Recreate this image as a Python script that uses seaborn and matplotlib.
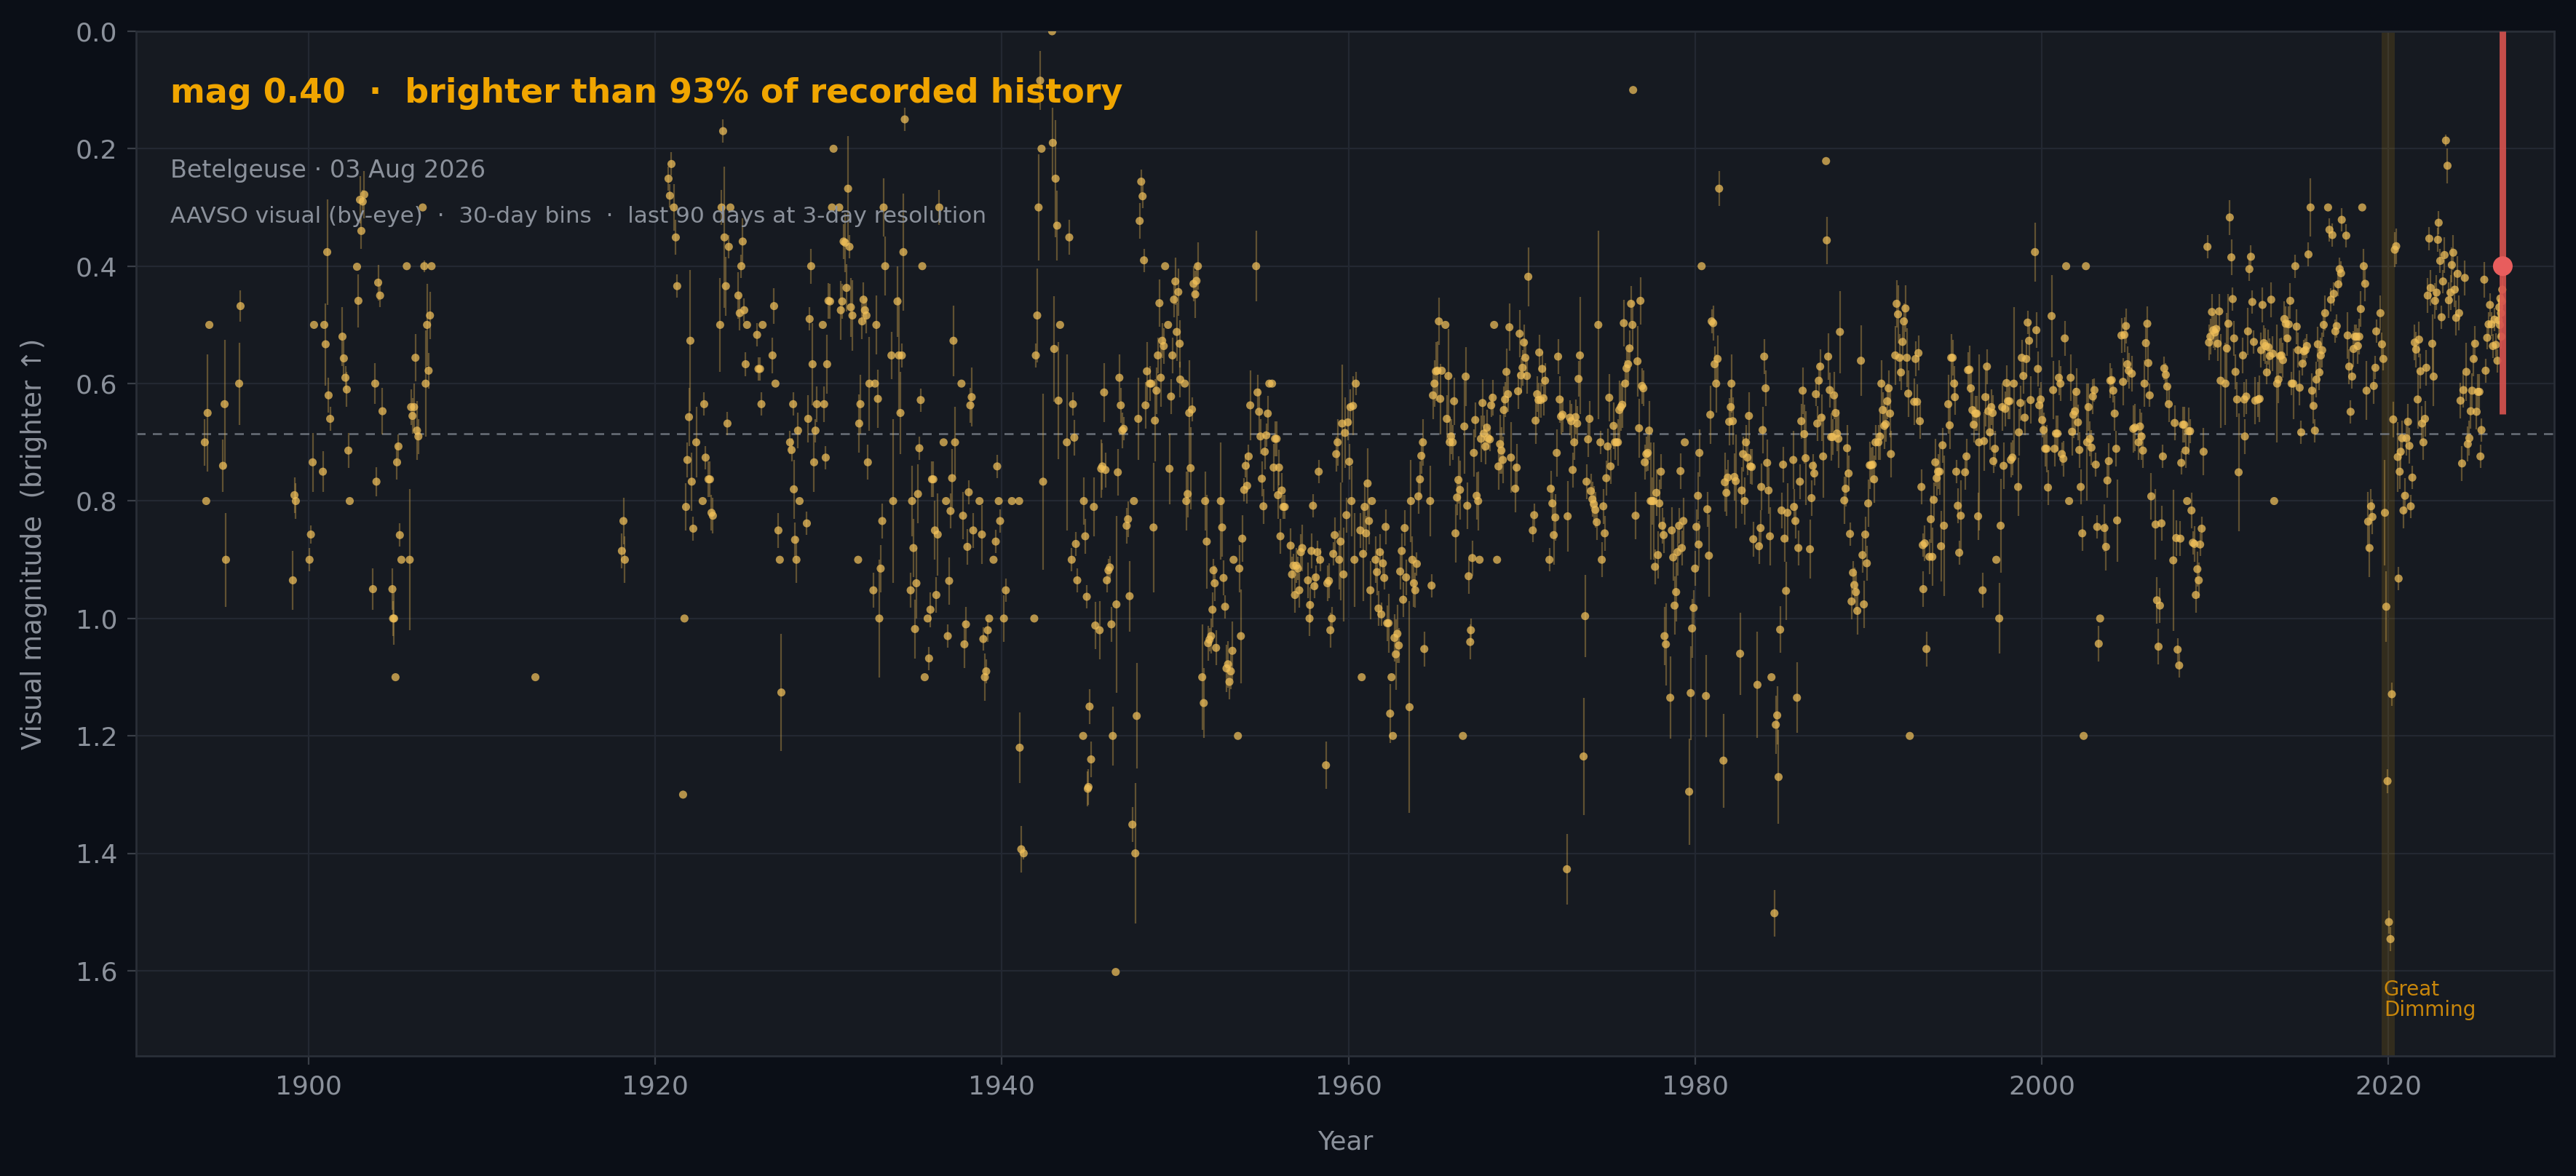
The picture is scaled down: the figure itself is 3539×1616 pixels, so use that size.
import numpy as np
import pandas as pd
import matplotlib
matplotlib.use("Agg")
import matplotlib.pyplot as plt
import seaborn as sns

# ---- 30-day binned visual magnitudes (year, mag, spread) ----
years_a = [1894.02, 1894.10, 1894.18, 1894.28, 1895.07, 1895.16, 1895.24, 1896.00, 1896.08,
           1899.10, 1899.19, 1899.27, 1900.06, 1900.14, 1900.24, 1900.32, 1900.83, 1900.91, 1900.99, 1901.08, 1901.16, 1901.25,
           1901.96, 1902.04, 1902.13, 1902.21, 1902.30, 1902.38, 1902.80, 1902.88, 1902.97, 1903.05, 1903.13, 1903.22,
           1903.72, 1903.85, 1903.92, 1904.02, 1904.13, 1904.27, 1904.84, 1904.88, 1904.94, 1905.02, 1905.11, 1905.19, 1905.27, 1905.36,
           1905.67, 1905.84, 1905.92, 1906.00, 1906.09, 1906.17, 1906.26, 1906.34, 1906.59, 1906.68, 1906.76, 1906.84, 1906.93, 1907.01, 1907.10]
mags_a = [0.700, 0.800, 0.650, 0.500, 0.740, 0.635, 0.900, 0.600, 0.468,
          0.935, 0.790, 0.800, 0.900, 0.857, 0.734, 0.500, 0.750, 0.500, 0.533, 0.376, 0.620, 0.660,
          0.520, 0.557, 0.590, 0.610, 0.714, 0.800, 0.401, 0.459, 0.287, 0.340, 0.290, 0.278,
          0.950, 0.600, 0.767, 0.428, 0.450, 0.647, 0.950, 1.000, 1.000, 1.100, 0.734, 0.707, 0.858, 0.900,
          0.400, 0.900, 0.640, 0.655, 0.640, 0.556, 0.680, 0.690, 0.300, 0.400, 0.600, 0.500, 0.578, 0.484, 0.400]
errs_a = [0.04, 0, 0.10, 0, 0.045, 0.11, 0.08, 0.07, 0.027,
          0.05, 0.03, 0.03, 0.02, 0.015, 0.05, 0, 0.035, 0, 0.07, 0.09, 0.03, 0.02,
          0.05, 0.03, 0.02, 0.03, 0.03, 0, 0, 0.045, 0.04, 0.03, 0.02, 0.04,
          0.035, 0.035, 0.025, 0.03, 0.02, 0.04, 0.035, 0.03, 0.045, 0, 0.03, 0.02, 0.02, 0,
          0, 0.12, 0.03, 0.03, 0.04, 0.04, 0.05, 0.03, 0, 0.01, 0.09, 0.07, 0.03, 0.04, 0]

years_b = [1913.09, 1918.08, 1918.17, 1918.25,
           1920.77, 1920.85, 1920.94, 1921.08, 1921.19, 1921.27, 1921.61, 1921.69, 1921.78, 1921.86, 1921.95, 1922.03, 1922.11, 1922.20, 1922.37,
           1922.74, 1922.83, 1922.91, 1923.08, 1923.16, 1923.25, 1923.33, 1923.75, 1923.83, 1923.92, 1924.00, 1924.08, 1924.17, 1924.25, 1924.34,
           1924.80, 1924.88, 1924.97, 1925.05, 1925.14, 1925.22, 1925.30, 1925.88, 1925.96, 1926.05, 1926.13, 1926.20,
           1926.77, 1926.86, 1926.94, 1927.11, 1927.19, 1927.28, 1927.78, 1927.87, 1927.96, 1928.00, 1928.07, 1928.15, 1928.24, 1928.33,
           1928.75, 1928.83, 1928.91, 1929.00, 1929.08, 1929.17, 1929.25, 1929.33, 1929.67, 1929.75, 1929.84, 1929.92, 1930.00]
mags_b = [1.100, 0.885, 0.834, 0.900,
          0.251, 0.280, 0.226, 0.300, 0.351, 0.434, 1.300, 1.000, 0.810, 0.730, 0.657, 0.527, 0.767, 0.847, 0.700,
          0.800, 0.635, 0.726, 0.763, 0.763, 0.820, 0.825, 0.500, 0.300, 0.170, 0.351, 0.434, 0.668, 0.367, 0.300,
          0.450, 0.480, 0.400, 0.358, 0.475, 0.567, 0.500, 0.517, 0.575, 0.575, 0.635, 0.500,
          0.552, 0.468, 0.600, 0.850, 0.900, 1.126, 0.700, 0.713, 0.635, 0.780, 0.866, 0.900, 0.680, 0.800,
          0.838, 0.660, 0.490, 0.400, 0.567, 0.734, 0.680, 0.635, 0.500, 0.635, 0.726, 0.567, 0.459]
errs_b = [0, 0.03, 0.04, 0.04,
          0.02, 0.02, 0.02, 0.04, 0.03, 0.02, 0, 0, 0.04, 0.03, 0.05, 0.12, 0.05, 0.02, 0.06,
          0, 0.02, 0.02, 0.03, 0.03, 0.03, 0.03, 0.08, 0.03, 0.02, 0.12, 0.05, 0.02, 0.02, 0,
          0.04, 0.03, 0.02, 0.04, 0.02, 0.02, 0, 0.02, 0.02, 0.02, 0.02, 0,
          0.03, 0.03, 0, 0.03, 0, 0.10, 0.02, 0.02, 0.02, 0.05, 0.03, 0.04, 0.03, 0,
          0.02, 0.04, 0.02, 0.03, 0.07, 0.05, 0.02, 0.03, 0, 0.03, 0.02, 0.05, 0.03]

years_c = [1930.09, 1930.20, 1930.29, 1930.62, 1930.71, 1930.79, 1930.87, 1930.96, 1931.04, 1931.13, 1931.21, 1931.29, 1931.38,
           1931.71, 1931.77, 1931.84, 1931.94, 1932.02, 1932.10, 1932.19, 1932.27, 1932.36,
           1932.59, 1932.68, 1932.76, 1932.85, 1932.93, 1933.01, 1933.10, 1933.18, 1933.27,
           1933.63, 1933.73, 1933.98, 1934.06, 1934.15, 1934.23, 1934.32, 1934.40,
           1934.74, 1934.82, 1934.90, 1934.99, 1935.07, 1935.16, 1935.24, 1935.32, 1935.41,
           1935.55, 1935.72, 1935.80, 1935.88, 1935.97, 1936.05, 1936.14, 1936.22, 1936.30, 1936.39,
           1936.64, 1936.78, 1936.88, 1936.96, 1937.04, 1937.13, 1937.21, 1937.30,
           1937.67, 1937.76, 1937.84, 1937.93, 1938.01, 1938.09, 1938.18, 1938.26, 1938.35,
           1938.71, 1938.85, 1938.93, 1939.02, 1939.10, 1939.19, 1939.27,
           1939.52, 1939.65, 1939.73, 1939.82, 1939.90, 1940.12, 1940.23, 1940.58, 1941.00, 1941.03, 1941.12, 1941.26,
           1941.87, 1941.96, 1942.04, 1942.12, 1942.21, 1942.29, 1942.38,
           1942.90, 1942.94, 1943.02, 1943.10, 1943.19, 1943.27, 1943.36,
           1943.75, 1943.89, 1944.03, 1944.10, 1944.18, 1944.27, 1944.35,
           1944.69, 1944.73, 1944.81, 1944.90, 1944.96, 1945.00, 1945.06, 1945.15]
mags_c = [0.460, 0.300, 0.200, 0.300, 0.475, 0.460, 0.358, 0.360, 0.437, 0.268, 0.367, 0.470, 0.484,
          0.900, 0.668, 0.635, 0.494, 0.457, 0.475, 0.484, 0.734, 0.600,
          0.952, 0.600, 0.500, 0.626, 1.000, 0.915, 0.834, 0.300, 0.400,
          0.552, 0.800, 0.460, 0.552, 0.650, 0.552, 0.376, 0.150,
          0.952, 0.800, 0.880, 1.018, 0.940, 0.788, 0.710, 0.628, 0.400,
          1.100, 1.000, 1.068, 0.985, 0.763, 0.763, 0.850, 0.960, 0.857, 0.300,
          0.700, 0.800, 1.030, 0.936, 0.817, 0.761, 0.527, 0.700,
          0.600, 0.825, 1.044, 1.010, 0.878, 0.785, 0.637, 0.623, 0.850,
          0.800, 0.857, 1.035, 1.100, 1.090, 1.020, 1.000,
          0.900, 0.869, 0.741, 0.800, 0.834, 1.000, 0.952, 0.800, 0.800, 1.220, 1.393, 1.400,
          1.000, 0.552, 0.484, 0.300, 0.084, 0.200, 0.767,
          0.000, 0.190, 0.541, 0.251, 0.331, 0.629, 0.500,
          0.700, 0.351, 0.900, 0.635, 0.692, 0.873, 0.935,
          1.200, 0.800, 0.860, 0.963, 1.290, 1.287, 1.150, 1.240]
errs_c = [0.03, 0, 0, 0, 0.05, 0.03, 0.03, 0.05, 0.04, 0.09, 0.02, 0.05, 0.06,
          0, 0.05, 0.05, 0.03, 0.03, 0.02, 0.03, 0.03, 0.08,
          0.03, 0, 0.05, 0.05, 0.10, 0.04, 0.03, 0.05, 0.05,
          0.04, 0.14, 0.06, 0.10, 0.07, 0.02, 0.10, 0.02,
          0.03, 0.06, 0.05, 0.05, 0.06, 0.05, 0.02, 0.02, 0,
          0, 0, 0.02, 0.03, 0.03, 0.03, 0.05, 0.03, 0.07, 0.03,
          0, 0, 0.02, 0.04, 0.03, 0.05, 0.06, 0.06,
          0, 0.04, 0.04, 0.03, 0.03, 0.02, 0.03, 0.05, 0.03,
          0, 0.05, 0.02, 0.04, 0.02, 0.02, 0,
          0, 0.02, 0.02, 0, 0.02, 0.04, 0.02, 0, 0, 0.06, 0.04, 0.01,
          0, 0.02, 0.08, 0.09, 0.05, 0, 0.15,
          0, 0.06, 0.09, 0.10, 0.06, 0.10, 0,
          0.15, 0.03, 0.02, 0.02, 0.03, 0.02, 0.02,
          0, 0.04, 0.03, 0.02, 0.03, 0.03, 0.03, 0.03]

years_d = [1945.31, 1945.39, 1945.64, 1945.73, 1945.80, 1945.90, 1945.98, 1946.06, 1946.15, 1946.23, 1946.32, 1946.40, 1946.57, 1946.61,
           1946.69, 1946.78, 1946.86, 1946.95, 1947.03, 1947.20, 1947.28, 1947.37, 1947.53, 1947.62, 1947.70, 1947.78, 1947.87, 1947.95, 1948.04, 1948.12, 1948.20, 1948.29, 1948.37,
           1948.54, 1948.62, 1948.75, 1948.83, 1948.92, 1949.00, 1949.09, 1949.17, 1949.25, 1949.34, 1949.42, 1949.59, 1949.67, 1949.76, 1949.84, 1949.93, 1950.01, 1950.09, 1950.18, 1950.26, 1950.29,
           1950.55, 1950.64, 1950.72, 1950.81, 1950.89, 1950.97, 1951.06, 1951.16, 1951.23, 1951.31, 1951.56, 1951.65, 1951.73, 1951.82, 1951.90, 1951.98, 1952.07, 1952.15, 1952.21, 1952.28, 1952.36,
           1952.63, 1952.71, 1952.79, 1952.88, 1952.96, 1953.05, 1953.13, 1953.21, 1953.30, 1953.37, 1953.62, 1953.70, 1953.79, 1953.87, 1953.98, 1954.07, 1954.15, 1954.24, 1954.33,
           1954.67, 1954.75, 1954.84, 1954.92, 1955.00, 1955.09, 1955.17, 1955.26, 1955.34, 1955.43, 1955.59, 1955.68, 1955.76, 1955.85, 1955.93, 1955.99, 1956.07, 1956.15, 1956.24, 1956.32,
           1956.66, 1956.74, 1956.82, 1956.91, 1956.99, 1957.08, 1957.16, 1957.25, 1957.33, 1957.66, 1957.75, 1957.78, 1957.86, 1957.95, 1958.03, 1958.11, 1958.20, 1958.28, 1958.36,
           1958.70, 1958.78, 1958.87, 1958.95, 1959.04, 1959.12, 1959.20, 1959.29, 1959.37, 1959.46, 1959.54, 1959.63, 1959.71, 1959.79, 1959.88, 1959.96, 1960.04, 1960.11]
mags_d = [0.810, 1.012, 1.020, 0.745, 0.741, 0.615, 0.747, 0.935, 0.918, 0.913, 1.010, 1.200, 1.602, 0.976,
          0.751, 0.590, 0.637, 0.680, 0.677, 0.842, 0.831, 0.962, 1.351, 0.800, 1.400, 1.166, 0.660, 0.323, 0.256, 0.281, 0.390, 0.637, 0.579,
          0.600, 0.600, 0.845, 0.663, 0.612, 0.552, 0.463, 0.590, 0.527, 0.536, 0.400, 0.500, 0.745, 0.622, 0.552, 0.457, 0.426, 0.512, 0.444, 0.532, 0.593,
          0.600, 0.800, 0.788, 0.650, 0.744, 0.644, 0.430, 0.448, 0.425, 0.400, 1.100, 1.144, 0.800, 0.869, 1.042, 1.036, 1.030, 0.985, 0.918, 0.940, 1.050,
          0.800, 0.845, 0.931, 0.980, 1.085, 1.078, 1.108, 1.090, 1.055, 0.900, 1.200, 0.915, 1.030, 0.864, 0.781, 0.740, 0.774, 0.724, 0.637,
          0.400, 0.615, 0.648, 0.690, 0.762, 0.809, 0.716, 0.688, 0.651, 0.600, 0.600, 0.743, 0.694, 0.694, 0.790, 0.743, 0.860, 0.782, 0.810, 0.810,
          0.876, 0.925, 0.910, 0.960, 0.910, 0.915, 0.952, 0.887, 0.880, 0.935, 1.000, 0.977, 0.885, 0.808, 0.945, 0.930, 0.887, 0.750, 0.900,
          1.250, 0.940, 0.936, 1.020, 1.000, 0.890, 0.858, 0.720, 0.700, 0.900, 0.869, 0.668, 0.925, 0.684, 0.824, 0.666, 0.733, 0.640]
errs_d = [0.05, 0.04, 0.05, 0.05, 0.04, 0.05, 0.03, 0.02, 0.02, 0.02, 0.03, 0.05, 0, 0.15,
          0.04, 0.04, 0.03, 0.03, 0.02, 0.03, 0.03, 0.06, 0.03, 0, 0.12, 0.09, 0.07, 0.03, 0.02, 0.02, 0.02, 0.04, 0.05,
          0.03, 0, 0.11, 0.07, 0.04, 0.03, 0.04, 0.05, 0.03, 0.03, 0, 0, 0.06, 0.03, 0.03, 0.03, 0.04, 0.05, 0.04, 0.04, 0.03,
          0, 0.05, 0.04, 0.09, 0.07, 0.02, 0.03, 0.04, 0.03, 0.04, 0.09, 0.06, 0.05, 0.08, 0.03, 0.02, 0.03, 0.03, 0.02, 0.03, 0.03,
          0.10, 0.05, 0.03, 0.02, 0.04, 0.04, 0.03, 0.03, 0.05, 0, 0, 0.04, 0.08, 0.04, 0.02, 0.02, 0.03, 0.02, 0.06,
          0.06, 0.03, 0.04, 0.03, 0.03, 0.03, 0.03, 0.02, 0.03, 0, 0, 0.04, 0.03, 0.03, 0.04, 0.03, 0.03, 0.03, 0.02, 0.02,
          0.03, 0.03, 0.02, 0.03, 0.03, 0.02, 0.03, 0.03, 0.04, 0.03, 0.03, 0.03, 0.03, 0.02, 0.02, 0.02, 0.02, 0.02, 0.02,
          0.04, 0.03, 0.03, 0.03, 0.02, 0.02, 0.03, 0.03, 0.04, 0.05, 0.10, 0.10, 0.08, 0.06, 0.03, 0.03, 0.03, 0.03]

years_e = [1960.17, 1960.26, 1960.34, 1960.42, 1960.68, 1960.76, 1960.84, 1960.93, 1961.01, 1961.10, 1961.18, 1961.26, 1961.35,
           1961.56, 1961.64, 1961.73, 1961.81, 1961.89, 1961.98, 1962.06, 1962.14, 1962.23, 1962.31, 1962.40, 1962.48, 1962.56, 1962.65, 1962.73, 1962.82, 1962.90, 1962.98, 1963.07, 1963.15, 1963.24, 1963.32,
           1963.52, 1963.60, 1963.68, 1963.77, 1963.85, 1963.94, 1964.03, 1964.12, 1964.20, 1964.29, 1964.37, 1964.71, 1964.79, 1964.87, 1964.96, 1965.04, 1965.13, 1965.21, 1965.29, 1965.38,
           1965.59, 1965.67, 1965.76, 1965.84, 1965.92, 1966.01, 1966.09, 1966.17, 1966.26, 1966.34, 1966.43, 1966.60, 1966.68, 1966.76, 1966.85, 1966.93, 1967.02, 1967.06, 1967.14, 1967.23, 1967.31, 1967.39, 1967.48,
           1967.56, 1967.64, 1967.73, 1967.81, 1967.90, 1967.98, 1968.06, 1968.15, 1968.23, 1968.32, 1968.40, 1968.57, 1968.65, 1968.74, 1968.82, 1968.90, 1968.96, 1969.03, 1969.11, 1969.20, 1969.28, 1969.37,
           1969.62, 1969.70, 1969.78, 1969.87, 1969.95, 1970.04, 1970.12, 1970.20, 1970.29, 1970.37, 1970.63, 1970.71, 1970.79, 1970.88, 1970.96, 1971.00, 1971.09, 1971.17, 1971.25, 1971.34,
           1971.59, 1971.67, 1971.76, 1971.84, 1971.93, 1972.01, 1972.09, 1972.18, 1972.26, 1972.35, 1972.60, 1972.64, 1972.77, 1972.85, 1972.93, 1973.02, 1973.10, 1973.19, 1973.27, 1973.35,
           1973.56, 1973.65, 1973.73, 1973.82, 1973.90, 1973.98, 1974.07, 1974.15, 1974.24, 1974.32, 1974.41, 1974.53, 1974.61, 1974.70, 1974.78, 1974.87, 1974.95, 1975.04, 1975.12]
mags_e = [0.800, 0.638, 0.900, 0.600, 0.850, 1.100, 0.890, 0.810, 0.855, 0.770, 0.834, 0.952, 0.800,
          0.900, 0.921, 0.983, 0.887, 0.993, 0.906, 0.931, 0.844, 1.008, 1.008, 1.162, 1.100, 1.200, 1.033, 1.061, 1.026, 1.046, 0.920, 0.885, 0.968, 0.846, 0.930,
          1.151, 0.800, 0.900, 0.940, 0.952, 0.907, 0.792, 0.763, 0.723, 0.700, 1.052, 0.800, 0.944, 0.620, 0.600, 0.579, 0.578, 0.494, 0.626, 0.578,
          0.500, 0.660, 0.587, 0.700, 0.690, 0.700, 0.630, 0.855, 0.794, 0.764, 0.781, 1.200, 0.673, 0.588, 0.808, 0.928, 1.040, 1.020, 0.897, 0.718, 0.662, 0.791, 0.800,
          0.900, 0.694, 0.633, 0.685, 0.707, 0.675, 0.693, 0.695, 0.637, 0.624, 0.500, 0.900, 0.741, 0.703, 0.714, 0.730, 0.645, 0.627, 0.580, 0.618, 0.504, 0.726,
          0.779, 0.743, 0.613, 0.515, 0.586, 0.573, 0.530, 0.556, 0.587, 0.418, 0.850, 0.824, 0.663, 0.618, 0.628, 0.547, 0.628, 0.575, 0.625, 0.595,
          0.900, 0.779, 0.804, 0.858, 0.828, 0.718, 0.554, 0.627, 0.656, 0.653, 1.427, 0.826, 0.658, 0.664, 0.747, 0.700, 0.657, 0.668, 0.592, 0.552,
          1.235, 0.996, 0.767, 0.695, 0.660, 0.783, 0.797, 0.805, 0.815, 0.836, 0.500, 0.700, 0.900, 0.809, 0.855, 0.761, 0.707, 0.624, 0.741]
errs_e = [0.06, 0.05, 0.08, 0.02, 0.03, 0, 0.08, 0.04, 0.03, 0.06, 0.04, 0.05, 0,
          0.04, 0.04, 0.03, 0.03, 0.02, 0.02, 0.02, 0.03, 0.03, 0.05, 0.05, 0, 0, 0.04, 0.06, 0.05, 0.03, 0.03, 0.03, 0.03, 0.03, 0.03,
          0.18, 0.07, 0.04, 0.04, 0.03, 0.02, 0.03, 0.03, 0.03, 0.04, 0.03, 0.06, 0.02, 0.04, 0.04, 0.05, 0.05, 0.04, 0.06, 0,
          0, 0.04, 0.08, 0.04, 0.03, 0.03, 0.04, 0.05, 0.03, 0.04, 0.05, 0, 0.08, 0.05, 0.04, 0.03, 0.03, 0.02, 0.03, 0.04, 0.03, 0.04, 0.05,
          0, 0.04, 0.04, 0.03, 0.03, 0.03, 0.02, 0.02, 0.02, 0.03, 0, 0, 0.04, 0.05, 0.04, 0.04, 0.04, 0.03, 0.04, 0.03, 0.04, 0.06,
          0.04, 0.04, 0.03, 0.04, 0.03, 0.03, 0.03, 0.03, 0.03, 0.05, 0.02, 0.02, 0.04, 0.03, 0.03, 0.03, 0.03, 0.03, 0.03, 0.03,
          0.02, 0.03, 0.03, 0.05, 0.04, 0.04, 0.03, 0.04, 0.03, 0.03, 0.06, 0.06, 0.03, 0.03, 0.03, 0.03, 0.03, 0.03, 0.03, 0.10,
          0.10, 0.07, 0.03, 0.03, 0.03, 0.03, 0.03, 0.03, 0.03, 0.03, 0.16, 0.02, 0.03, 0.03, 0.03, 0.03, 0.03, 0.04, 0.03]

years_f = [1975.29, 1975.37, 1975.46, 1975.54, 1975.62, 1975.71, 1975.79, 1975.88, 1975.96, 1976.04, 1976.13, 1976.21, 1976.30, 1976.38, 1976.42,
           1976.56, 1976.67, 1976.76, 1976.84, 1976.93, 1977.01, 1977.09, 1977.18, 1977.26, 1977.34, 1977.43, 1977.51, 1977.60, 1977.68, 1977.76, 1977.85, 1977.93, 1978.02, 1978.10, 1978.18, 1978.23, 1978.31,
           1978.56, 1978.65, 1978.73, 1978.81, 1978.90, 1978.98, 1979.07, 1979.15, 1979.23, 1979.32, 1979.40, 1979.65, 1979.74, 1979.82, 1979.91, 1979.99, 1980.07, 1980.16, 1980.20, 1980.24, 1980.37,
           1980.62, 1980.70, 1980.79, 1980.87, 1980.95, 1981.04, 1981.12, 1981.21, 1981.29, 1981.38, 1981.63, 1981.71, 1981.80, 1981.88, 1981.96, 1982.05, 1982.09, 1982.17, 1982.26, 1982.34,
           1982.59, 1982.68, 1982.76, 1982.85, 1982.93, 1983.01, 1983.10, 1983.18, 1983.26, 1983.35, 1983.59, 1983.68, 1983.77, 1983.81, 1983.89, 1983.98, 1984.06, 1984.15, 1984.23, 1984.31, 1984.40,
           1984.57, 1984.65, 1984.73, 1984.81, 1984.90, 1984.98, 1985.07, 1985.15, 1985.24, 1985.32, 1985.66, 1985.70, 1985.78, 1985.87, 1985.95, 1986.04, 1986.12, 1986.20, 1986.29, 1986.37,
           1986.62, 1986.71, 1986.79, 1986.87, 1986.96, 1987.04, 1987.13, 1987.21, 1987.29, 1987.38, 1987.55, 1987.59, 1987.67, 1987.76, 1987.84, 1987.93, 1988.01, 1988.10, 1988.18, 1988.26, 1988.35,
           1988.60, 1988.68, 1988.76, 1988.85, 1988.93, 1989.02, 1989.10, 1989.18, 1989.27, 1989.35, 1989.56, 1989.65, 1989.73, 1989.81, 1989.90, 1989.98, 1990.07]
mags_f = [0.672, 0.700, 0.700, 0.700, 0.645, 0.640, 0.636, 0.497, 0.600, 0.574, 0.567, 0.540, 0.464, 0.500, 0.100,
          0.825, 0.562, 0.676, 0.459, 0.604, 0.608, 0.734, 0.720, 0.718, 0.680, 0.800, 0.800, 0.800, 0.912, 0.786, 0.892, 0.804, 0.750, 0.842, 0.858, 1.030, 1.044,
          1.135, 0.850, 0.896, 0.978, 0.955, 0.887, 0.842, 0.749, 0.880, 0.834, 0.700, 1.295, 1.127, 1.017, 0.982, 0.915, 0.844, 0.791, 0.874, 0.718, 0.400,
          1.132, 0.814, 0.893, 0.653, 0.494, 0.497, 0.567, 0.600, 0.558, 0.268, 1.242, 0.768, 0.786, 0.760, 0.665, 0.640, 0.600, 0.664, 0.759, 0.766,
          1.060, 0.782, 0.720, 0.800, 0.700, 0.726, 0.655, 0.741, 0.742, 0.865, 1.113, 0.877, 0.846, 0.776, 0.679, 0.554, 0.608, 0.735, 0.782, 0.860, 1.100,
          1.502, 1.181, 1.165, 1.270, 1.019, 0.816, 0.738, 0.864, 0.953, 0.820, 0.730, 0.810, 0.834, 1.135, 0.880, 0.767, 0.664, 0.612, 0.686, 0.727,
          0.882, 0.795, 0.740, 0.753, 0.618, 0.668, 0.595, 0.571, 0.658, 0.724, 0.221, 0.356, 0.554, 0.611, 0.691, 0.691, 0.620, 0.650, 0.685, 0.694, 0.512,
          0.799, 0.779, 0.710, 0.753, 0.856, 0.971, 0.922, 0.943, 0.955, 0.987, 0.561, 0.892, 0.976, 0.857, 0.906, 0.804, 0.739]
errs_f = [0.04, 0.03, 0, 0.04, 0.05, 0.04, 0.04, 0.04, 0.04, 0.03, 0.03, 0.03, 0.03, 0.04, 0,
          0.04, 0.06, 0.05, 0.04, 0.03, 0.03, 0.03, 0.03, 0.03, 0.05, 0.10, 0.04, 0.10, 0.03, 0.04, 0.04, 0.04, 0.03, 0.03, 0.03, 0.05, 0.07,
          0.07, 0.04, 0.04, 0.05, 0.05, 0.04, 0.03, 0.03, 0.03, 0.04, 0, 0.09, 0.08, 0.05, 0.03, 0.03, 0.03, 0.04, 0.04, 0.04, 0,
          0.07, 0.03, 0.07, 0.05, 0.02, 0.03, 0.03, 0.05, 0.04, 0.03, 0.08, 0.05, 0.04, 0.03, 0.04, 0.03, 0.05, 0.04, 0.04, 0.08,
          0.07, 0.04, 0.03, 0.04, 0.03, 0.03, 0.04, 0.03, 0.03, 0.03, 0.09, 0.03, 0.03, 0.04, 0.04, 0.03, 0.03, 0.04, 0.04, 0.05, 0,
          0.04, 0.05, 0.05, 0.08, 0.04, 0.03, 0.03, 0.04, 0.05, 0.05, 0.05, 0.03, 0.03, 0.06, 0.03, 0.03, 0.03, 0.04, 0.05, 0.08,
          0.05, 0.03, 0.02, 0.02, 0.02, 0.03, 0.03, 0.03, 0.04, 0.07, 0, 0.04, 0.04, 0.03, 0.04, 0.03, 0.04, 0.03, 0.03, 0.05, 0.07,
          0.04, 0.03, 0.04, 0.03, 0.02, 0.03, 0.02, 0.03, 0.03, 0.04, 0.06, 0.03, 0.04, 0.03, 0.03, 0.04, 0.04]

years_g = [1990.15, 1990.24, 1990.32, 1990.40, 1990.57, 1990.66, 1990.74, 1990.82, 1990.91, 1990.99, 1991.08, 1991.16, 1991.24, 1991.29,
           1991.54, 1991.62, 1991.70, 1991.79, 1991.87, 1991.96, 1992.04, 1992.13, 1992.21, 1992.29, 1992.38, 1992.63, 1992.71, 1992.80, 1992.88, 1992.96, 1993.05, 1993.13, 1993.16, 1993.24, 1993.34,
           1993.51, 1993.59, 1993.68, 1993.76, 1993.85, 1993.93, 1994.01, 1994.10, 1994.18, 1994.27, 1994.35, 1994.60, 1994.68, 1994.77, 1994.85, 1994.94, 1994.98, 1995.06, 1995.15, 1995.23, 1995.32,
           1995.57, 1995.65, 1995.74, 1995.82, 1995.90, 1995.99, 1996.07, 1996.16, 1996.24, 1996.32, 1996.37, 1996.58, 1996.66, 1996.74, 1996.83, 1996.91, 1997.00, 1997.08, 1997.16, 1997.20, 1997.29, 1997.37,
           1997.54, 1997.62, 1997.71, 1997.79, 1997.88, 1997.96, 1998.04, 1998.13, 1998.21, 1998.30, 1998.38, 1998.63, 1998.67, 1998.76, 1998.84, 1998.93, 1999.01, 1999.10, 1999.18, 1999.26, 1999.35,
           1999.60, 1999.68, 1999.77, 1999.85, 1999.93, 2000.02, 2000.10, 2000.19, 2000.27, 2000.35, 2000.56, 2000.65, 2000.73, 2000.81, 2000.90, 2000.98, 2001.07, 2001.15, 2001.24, 2001.32, 2001.40,
           2001.57, 2001.66, 2001.74, 2001.82, 2001.91, 2001.99, 2002.08, 2002.16, 2002.24, 2002.33, 2002.41, 2002.54, 2002.61, 2002.69, 2002.77, 2002.86, 2002.94, 2003.03, 2003.11, 2003.19, 2003.28, 2003.36,
           2003.61, 2003.70, 2003.78, 2003.86, 2003.95, 2004.03, 2004.12, 2004.20, 2004.29, 2004.34, 2004.59, 2004.68, 2004.76, 2004.85, 2004.93, 2005.01]
mags_g = [0.739, 0.738, 0.763, 0.700, 0.700, 0.690, 0.600, 0.645, 0.672, 0.669, 0.630, 0.608, 0.651, 0.720,
          0.552, 0.464, 0.482, 0.556, 0.581, 0.529, 0.494, 0.472, 0.556, 0.617, 1.200, 0.631, 0.558, 0.631, 0.548, 0.664, 0.776, 0.875, 0.950, 0.872, 1.052,
          0.895, 0.831, 0.895, 0.798, 0.734, 0.761, 0.750, 0.750, 0.877, 0.705, 0.842, 0.635, 0.671, 0.556, 0.556, 0.600, 0.623, 0.750, 0.808, 0.888, 0.825,
          0.751, 0.724, 0.577, 0.576, 0.608, 0.645, 0.670, 0.651, 0.651, 0.826, 0.700, 0.952, 0.698, 0.623, 0.571, 0.647, 0.683, 0.640, 0.650, 0.732, 0.711, 0.900,
          1.000, 0.842, 0.640, 0.740, 0.643, 0.599, 0.630, 0.630, 0.730, 0.726, 0.600, 0.776, 0.683, 0.633, 0.556, 0.587, 0.658, 0.558, 0.496, 0.527, 0.628,
          0.376, 0.509, 0.575, 0.637, 0.627, 0.662, 0.679, 0.711, 0.711, 0.777, 0.485, 0.611, 0.711, 0.685, 0.685, 0.590, 0.600, 0.720, 0.728, 0.523, 0.400,
          0.800, 0.590, 0.682, 0.653, 0.647, 0.614, 0.666, 0.713, 0.776, 0.855, 1.200, 0.400, 0.700, 0.640, 0.694, 0.709, 0.622, 0.611, 0.738, 0.844, 1.043, 1.000,
          0.846, 0.878, 0.765, 0.732, 0.595, 0.594, 0.612, 0.651, 0.711, 0.833, 0.518, 0.597, 0.517, 0.502, 0.567, 0.578]
errs_g = [0.03, 0.03, 0.04, 0.03, 0.03, 0.04, 0.04, 0.03, 0.04, 0.03, 0.03, 0.03, 0.04, 0.04,
          0.05, 0.04, 0.05, 0.04, 0.03, 0.03, 0.03, 0.04, 0.05, 0.04, 0, 0.04, 0.03, 0.03, 0.03, 0.03, 0.03, 0.02, 0.03, 0.03, 0.03,
          0.03, 0.04, 0.05, 0.03, 0.04, 0.03, 0.03, 0.04, 0.06, 0.03, 0.12, 0.05, 0.04, 0.04, 0.03, 0.03, 0.03, 0.02, 0.03, 0.02, 0.06,
          0.03, 0.03, 0.03, 0.04, 0.03, 0.03, 0.03, 0.03, 0.03, 0.04, 0.15, 0.03, 0.05, 0.05, 0.03, 0.03, 0.03, 0.03, 0.03, 0.02, 0.03, 0,
          0.06, 0.08, 0.04, 0.04, 0.03, 0.03, 0.03, 0.03, 0.03, 0.03, 0.13, 0.05, 0.04, 0.03, 0.03, 0.03, 0.03, 0.03, 0.02, 0.03, 0.04,
          0.05, 0.03, 0.03, 0.03, 0.03, 0.03, 0.03, 0.03, 0.04, 0.03, 0.07, 0.05, 0.03, 0.03, 0.03, 0.03, 0.03, 0.02, 0.03, 0.03, 0,
          0, 0.04, 0.04, 0.04, 0.04, 0.04, 0.03, 0.03, 0.03, 0.03, 0, 0, 0.10, 0.04, 0.03, 0.03, 0.03, 0.02, 0.02, 0.02, 0.03, 0,
          0.04, 0.04, 0.03, 0.03, 0.03, 0.02, 0.02, 0.03, 0.03, 0.07, 0.03, 0.04, 0.03, 0.03, 0.03, 0.03]

years_h = [2005.19, 2005.27, 2005.36, 2005.58, 2005.66, 2005.75, 2005.83, 2005.92, 2006.00, 2006.08, 2006.14, 2006.22, 2006.31,
           2006.56, 2006.64, 2006.73, 2006.81, 2006.90, 2006.98, 2007.06, 2007.15, 2007.23, 2007.32, 2007.58, 2007.66, 2007.75, 2007.83, 2007.92, 2007.99, 2008.04, 2008.13, 2008.21, 2008.29, 2008.38,
           2008.46, 2008.55, 2008.63, 2008.71, 2008.80, 2008.88, 2008.97, 2009.05, 2009.13, 2009.22, 2009.33, 2009.55, 2009.64, 2009.72, 2009.81, 2009.89, 2009.98, 2010.06, 2010.14, 2010.23, 2010.31,
           2010.59, 2010.67, 2010.76, 2010.84, 2010.93, 2011.01, 2011.09, 2011.17, 2011.26, 2011.35, 2011.60, 2011.68, 2011.71, 2011.79, 2011.89, 2011.97, 2012.06, 2012.14, 2012.23, 2012.31,
           2012.48, 2012.56, 2012.65, 2012.73, 2012.81, 2012.90, 2012.98, 2013.07, 2013.15, 2013.23, 2013.32, 2013.40, 2013.57, 2013.65, 2013.74, 2013.82, 2013.91, 2013.99, 2014.07, 2014.16, 2014.24, 2014.33, 2014.41, 2014.50,
           2014.62, 2014.70, 2014.79, 2014.87, 2014.96, 2015.04, 2015.12, 2015.21, 2015.29, 2015.38, 2015.50, 2015.59, 2015.67, 2015.75, 2015.84, 2015.92, 2016.01, 2016.09, 2016.17, 2016.26, 2016.34,
           2016.51, 2016.59, 2016.68, 2016.76, 2016.84, 2016.93, 2017.01, 2017.10, 2017.18, 2017.26, 2017.30, 2017.56, 2017.64, 2017.73, 2017.81, 2017.90, 2017.98, 2018.06, 2018.15, 2018.23, 2018.31, 2018.40,
           2018.48, 2018.57, 2018.65, 2018.73, 2018.82, 2018.90, 2018.99, 2019.07, 2019.15, 2019.24, 2019.29, 2019.53, 2019.62, 2019.70, 2019.79, 2019.87]
mags_h = [0.583, 0.677, 0.675, 0.700, 0.673, 0.690, 0.714, 0.600, 0.531, 0.498, 0.565, 0.620, 0.792,
          0.840, 0.969, 1.048, 0.978, 0.838, 0.724, 0.574, 0.585, 0.605, 0.635, 0.901, 0.667, 0.863, 1.053, 1.080, 0.864, 0.735, 0.670, 0.670, 0.714, 0.800,
          0.681, 0.681, 0.816, 0.871, 0.873, 0.960, 0.916, 0.935, 0.874, 0.847, 0.716, 0.367, 0.530, 0.520, 0.478, 0.509, 0.513, 0.507, 0.532, 0.477, 0.595,
          0.600, 0.540, 0.498, 0.317, 0.385, 0.456, 0.523, 0.580, 0.627, 0.751, 0.552, 0.627, 0.690, 0.622, 0.511, 0.405, 0.384, 0.461, 0.529, 0.629,
          0.627, 0.626, 0.543, 0.466, 0.531, 0.536, 0.581, 0.538, 0.553, 0.457, 0.549, 0.800, 0.600, 0.593, 0.553, 0.552, 0.560, 0.490, 0.498, 0.523, 0.499, 0.459, 0.600, 0.600,
          0.400, 0.503, 0.543, 0.607, 0.683, 0.566, 0.545, 0.543, 0.536, 0.380, 0.300, 0.612, 0.638, 0.680, 0.593, 0.533, 0.581, 0.552, 0.543, 0.500, 0.480,
          0.300, 0.338, 0.457, 0.347, 0.447, 0.511, 0.502, 0.431, 0.405, 0.412, 0.321, 0.348, 0.518, 0.571, 0.648, 0.588, 0.541, 0.520, 0.520, 0.536, 0.520, 0.473,
          0.300, 0.400, 0.430, 0.612, 0.835, 0.880, 0.809, 0.827, 0.604, 0.573, 0.511, 0.480, 0.533, 0.558, 0.820, 0.980]
errs_h = [0.03, 0.04, 0.04, 0.03, 0.03, 0.04, 0.03, 0.04, 0.03, 0.03, 0.03, 0.02, 0.04,
          0.06, 0.04, 0.03, 0.03, 0.03, 0.02, 0.02, 0.02, 0.03, 0.03, 0.12, 0.03, 0.03, 0.02, 0.02, 0.03, 0.02, 0.03, 0.03, 0.03, 0,
          0.04, 0.02, 0.03, 0.02, 0.03, 0.03, 0.03, 0.03, 0.02, 0.02, 0.04, 0.02, 0.03, 0.03, 0.03, 0.03, 0.03, 0.03, 0.03, 0.03, 0.08,
          0.07, 0.06, 0.05, 0.03, 0.03, 0.02, 0.03, 0.03, 0.03, 0.10, 0.03, 0.03, 0.03, 0.03, 0.04, 0.02, 0.02, 0.02, 0.02, 0.04,
          0.03, 0.04, 0.03, 0.03, 0.03, 0.03, 0.02, 0.03, 0.03, 0.03, 0.03, 0, 0.10, 0.04, 0.03, 0.03, 0.03, 0.03, 0.03, 0.03, 0.03, 0.03, 0.02, 0.06,
          0.02, 0.03, 0.03, 0.03, 0.02, 0.02, 0.02, 0.02, 0.02, 0.02, 0.05, 0.03, 0.03, 0.02, 0.03, 0.03, 0.03, 0.03, 0.03, 0.02, 0.03,
          0, 0.02, 0.02, 0.02, 0.02, 0.02, 0.02, 0.02, 0.02, 0.02, 0.02, 0.02, 0.04, 0.03, 0.02, 0.02, 0.03, 0.02, 0.02, 0.03, 0.03, 0.03,
          0, 0.03, 0.03, 0.05, 0.05, 0.05, 0.03, 0.03, 0.03, 0.02, 0.02, 0.03, 0.02, 0.02, 0.09, 0.06]

years_i = [2019.94, 2020.02, 2020.11, 2020.19, 2020.27, 2020.36, 2020.44, 2020.53, 2020.58, 2020.64, 2020.70, 2020.78, 2020.86, 2020.95,
           2021.03, 2021.12, 2021.20, 2021.28, 2021.37, 2021.51, 2021.59, 2021.68, 2021.76, 2021.84, 2021.93, 2022.01, 2022.10, 2022.18, 2022.26, 2022.35, 2022.43, 2022.52, 2022.60,
           2022.68, 2022.77, 2022.85, 2022.89, 2022.98, 2023.06, 2023.14, 2023.23, 2023.31, 2023.40, 2023.48, 2023.57, 2023.65, 2023.73, 2023.82, 2023.90, 2023.98,
           2024.07, 2024.15, 2024.24, 2024.32, 2024.40, 2024.49, 2024.57, 2024.66, 2024.74, 2024.82, 2024.91, 2024.99, 2025.08, 2025.16, 2025.24, 2025.30, 2025.36,
           2025.52, 2025.60, 2025.69, 2025.77, 2025.85, 2025.94, 2026.02, 2026.11, 2026.19, 2026.28, 2026.36, 2026.39, 2026.42, 2026.45, 2026.48, 2026.50, 2026.53, 2026.56]
mags_i = [1.277, 1.517, 1.546, 1.129, 0.661, 0.372, 0.366, 0.725, 0.932, 0.750, 0.716, 0.693, 0.816, 0.791,
          0.693, 0.665, 0.706, 0.809, 0.760, 0.530, 0.542, 0.627, 0.525, 0.579, 0.668, 0.700, 0.660, 0.573, 0.450, 0.353, 0.437, 0.532, 0.588,
          0.459, 0.445, 0.355, 0.326, 0.391, 0.487, 0.426, 0.381, 0.186, 0.229, 0.458, 0.445, 0.398, 0.377, 0.440, 0.488, 0.413,
          0.480, 0.629, 0.736, 0.611, 0.420, 0.580, 0.703, 0.693, 0.647, 0.612, 0.558, 0.532, 0.648, 0.614, 0.614, 0.724, 0.679,
          0.423, 0.578, 0.522, 0.499, 0.466, 0.499, 0.536, 0.491, 0.534, 0.561, 0.492, 0.470, 0.500, 0.455, 0.480, 0.520, 0.460, 0.440]
errs_i = [0.02, 0.02, 0.02, 0.02, 0.03, 0.03, 0.03, 0.06, 0.02, 0.03, 0.03, 0.03, 0.03, 0.03,
          0.03, 0.03, 0.03, 0.02, 0.02, 0.03, 0.03, 0.05, 0.03, 0.03, 0.03, 0.03, 0.03, 0.03, 0.03, 0.02, 0.03, 0.05, 0.05,
          0.03, 0.03, 0.02, 0.02, 0.02, 0.02, 0.02, 0.03, 0.01, 0.03, 0.03, 0.03, 0.03, 0.03, 0.03, 0.03, 0.03,
          0.03, 0.03, 0.03, 0.03, 0.03, 0.05, 0.03, 0.03, 0.03, 0.03, 0.03, 0.03, 0.03, 0.03, 0.03, 0.02, 0.02,
          0.03, 0.02, 0.02, 0.02, 0.02, 0.02, 0.02, 0.02, 0.02, 0.02, 0.03, 0.02, 0.02, 0.02, 0.02, 0.02, 0.02, 0.02]

# current reading, long-term mean, Great Dimming window
now_year = 2026.59
now_mag = 0.40
now_span = [0.0, 0.652]
mean_mag = 0.685
dimming_span = [2019.62, 2020.35]
pct_brighter = 93

title_text = f"mag {now_mag:.2f}  ·  brighter than {pct_brighter}% of recorded history"
sub1_text = "Betelgeuse · 03 Aug 2026"
sub2_text = "AAVSO visual (by-eye)  ·  30-day bins  ·  last 90 days at 3-day resolution"
xticks = [1900, 1920, 1940, 1960, 1980, 2000, 2020]
yticks = [0.0, 0.2, 0.4, 0.6, 0.8, 1.0, 1.2, 1.4, 1.6]

segments = [(years_a, mags_a, errs_a), (years_b, mags_b, errs_b), (years_c, mags_c, errs_c),
            (years_d, mags_d, errs_d), (years_e, mags_e, errs_e), (years_f, mags_f, errs_f),
            (years_g, mags_g, errs_g), (years_h, mags_h, errs_h), (years_i, mags_i, errs_i)]
for y, m, e in segments:
    assert len(y) == len(m) == len(e), (len(y), len(m), len(e))

df = pd.DataFrame({
    "year": np.concatenate([s[0] for s in segments]),
    "mag": np.concatenate([s[1] for s in segments]),
    "err": np.concatenate([s[2] for s in segments]),
})

sns.set_theme(style="dark")
plt.rcParams['font.family'] = ['DejaVu Sans']

BG = '#0b0f17'
PANEL = '#161a21'
GRID = '#232832'
MUTED = '#8b919b'
GOLD = '#f2c15a'

fig, ax = plt.subplots(figsize=(17.695, 8.08), dpi=200)
fig.patch.set_facecolor(BG)
ax.set_facecolor(PANEL)
fig.subplots_adjust(left=0.0528, right=0.9915, top=0.9734, bottom=0.1021)

ax.axvspan(dimming_span[0], dimming_span[1], color='#c8900a', alpha=0.16, lw=0, zorder=1)
ax.axhline(mean_mag, color='#7a808a', ls=(0, (5, 4)), lw=0.9, alpha=0.85, zorder=1.5)

ax.errorbar(df["year"], df["mag"], yerr=df["err"], fmt='none', ecolor='#d9ad4f',
            elinewidth=0.8, alpha=0.38, zorder=2)
sns.scatterplot(data=df, x="year", y="mag", color=GOLD, alpha=0.72, s=16,
                edgecolor='none', linewidth=0, ax=ax, zorder=3)

# current reading
ax.plot([now_year, now_year], now_span, color='#d9534f', lw=3.2, alpha=0.9,
        solid_capstyle='butt', zorder=5)
ax.scatter([now_year], [now_mag], s=95, color='#e85d5d', edgecolor='none', zorder=6)

ax.text(dimming_span[0] + 0.1, 1.615, "Great\nDimming", color='#c8860b', fontsize=10,
        va='top', ha='left', linespacing=1.0, zorder=4)

ax.set_xlim(1890.05, 2029.55)
ax.set_ylim(1.745, 0.0)
ax.set_xticks(xticks)
ax.set_yticks(yticks)
ax.set_yticklabels([f"{v:.1f}" for v in yticks])

ax.grid(True, color=GRID, lw=0.8)
ax.set_axisbelow(True)
for sp in ax.spines.values():
    sp.set_color('#2a2f38')
    sp.set_linewidth(1.0)
ax.tick_params(colors=MUTED, labelsize=13, length=4.3, width=0.8, pad=5, color='#3a3f48')
ax.tick_params(axis='both', which='both', bottom=True, left=True)

ax.set_xlabel("Year", color=MUTED, fontsize=13, labelpad=15)
ax.set_ylabel("Visual magnitude  (brighter ↑)", color=MUTED, fontsize=13.3, labelpad=14)

ax.text(0.0143, 0.939, title_text, transform=ax.transAxes, color='#f0a500',
        fontsize=16.5, fontweight='bold', va='center', ha='left')
ax.text(0.0143, 0.864, sub1_text, transform=ax.transAxes, color=MUTED,
        fontsize=12, va='center', ha='left')
ax.text(0.0143, 0.819, sub2_text, transform=ax.transAxes, color=MUTED,
        fontsize=11.2, va='center', ha='left')

fig.savefig("out.png", dpi=200, facecolor=BG)
